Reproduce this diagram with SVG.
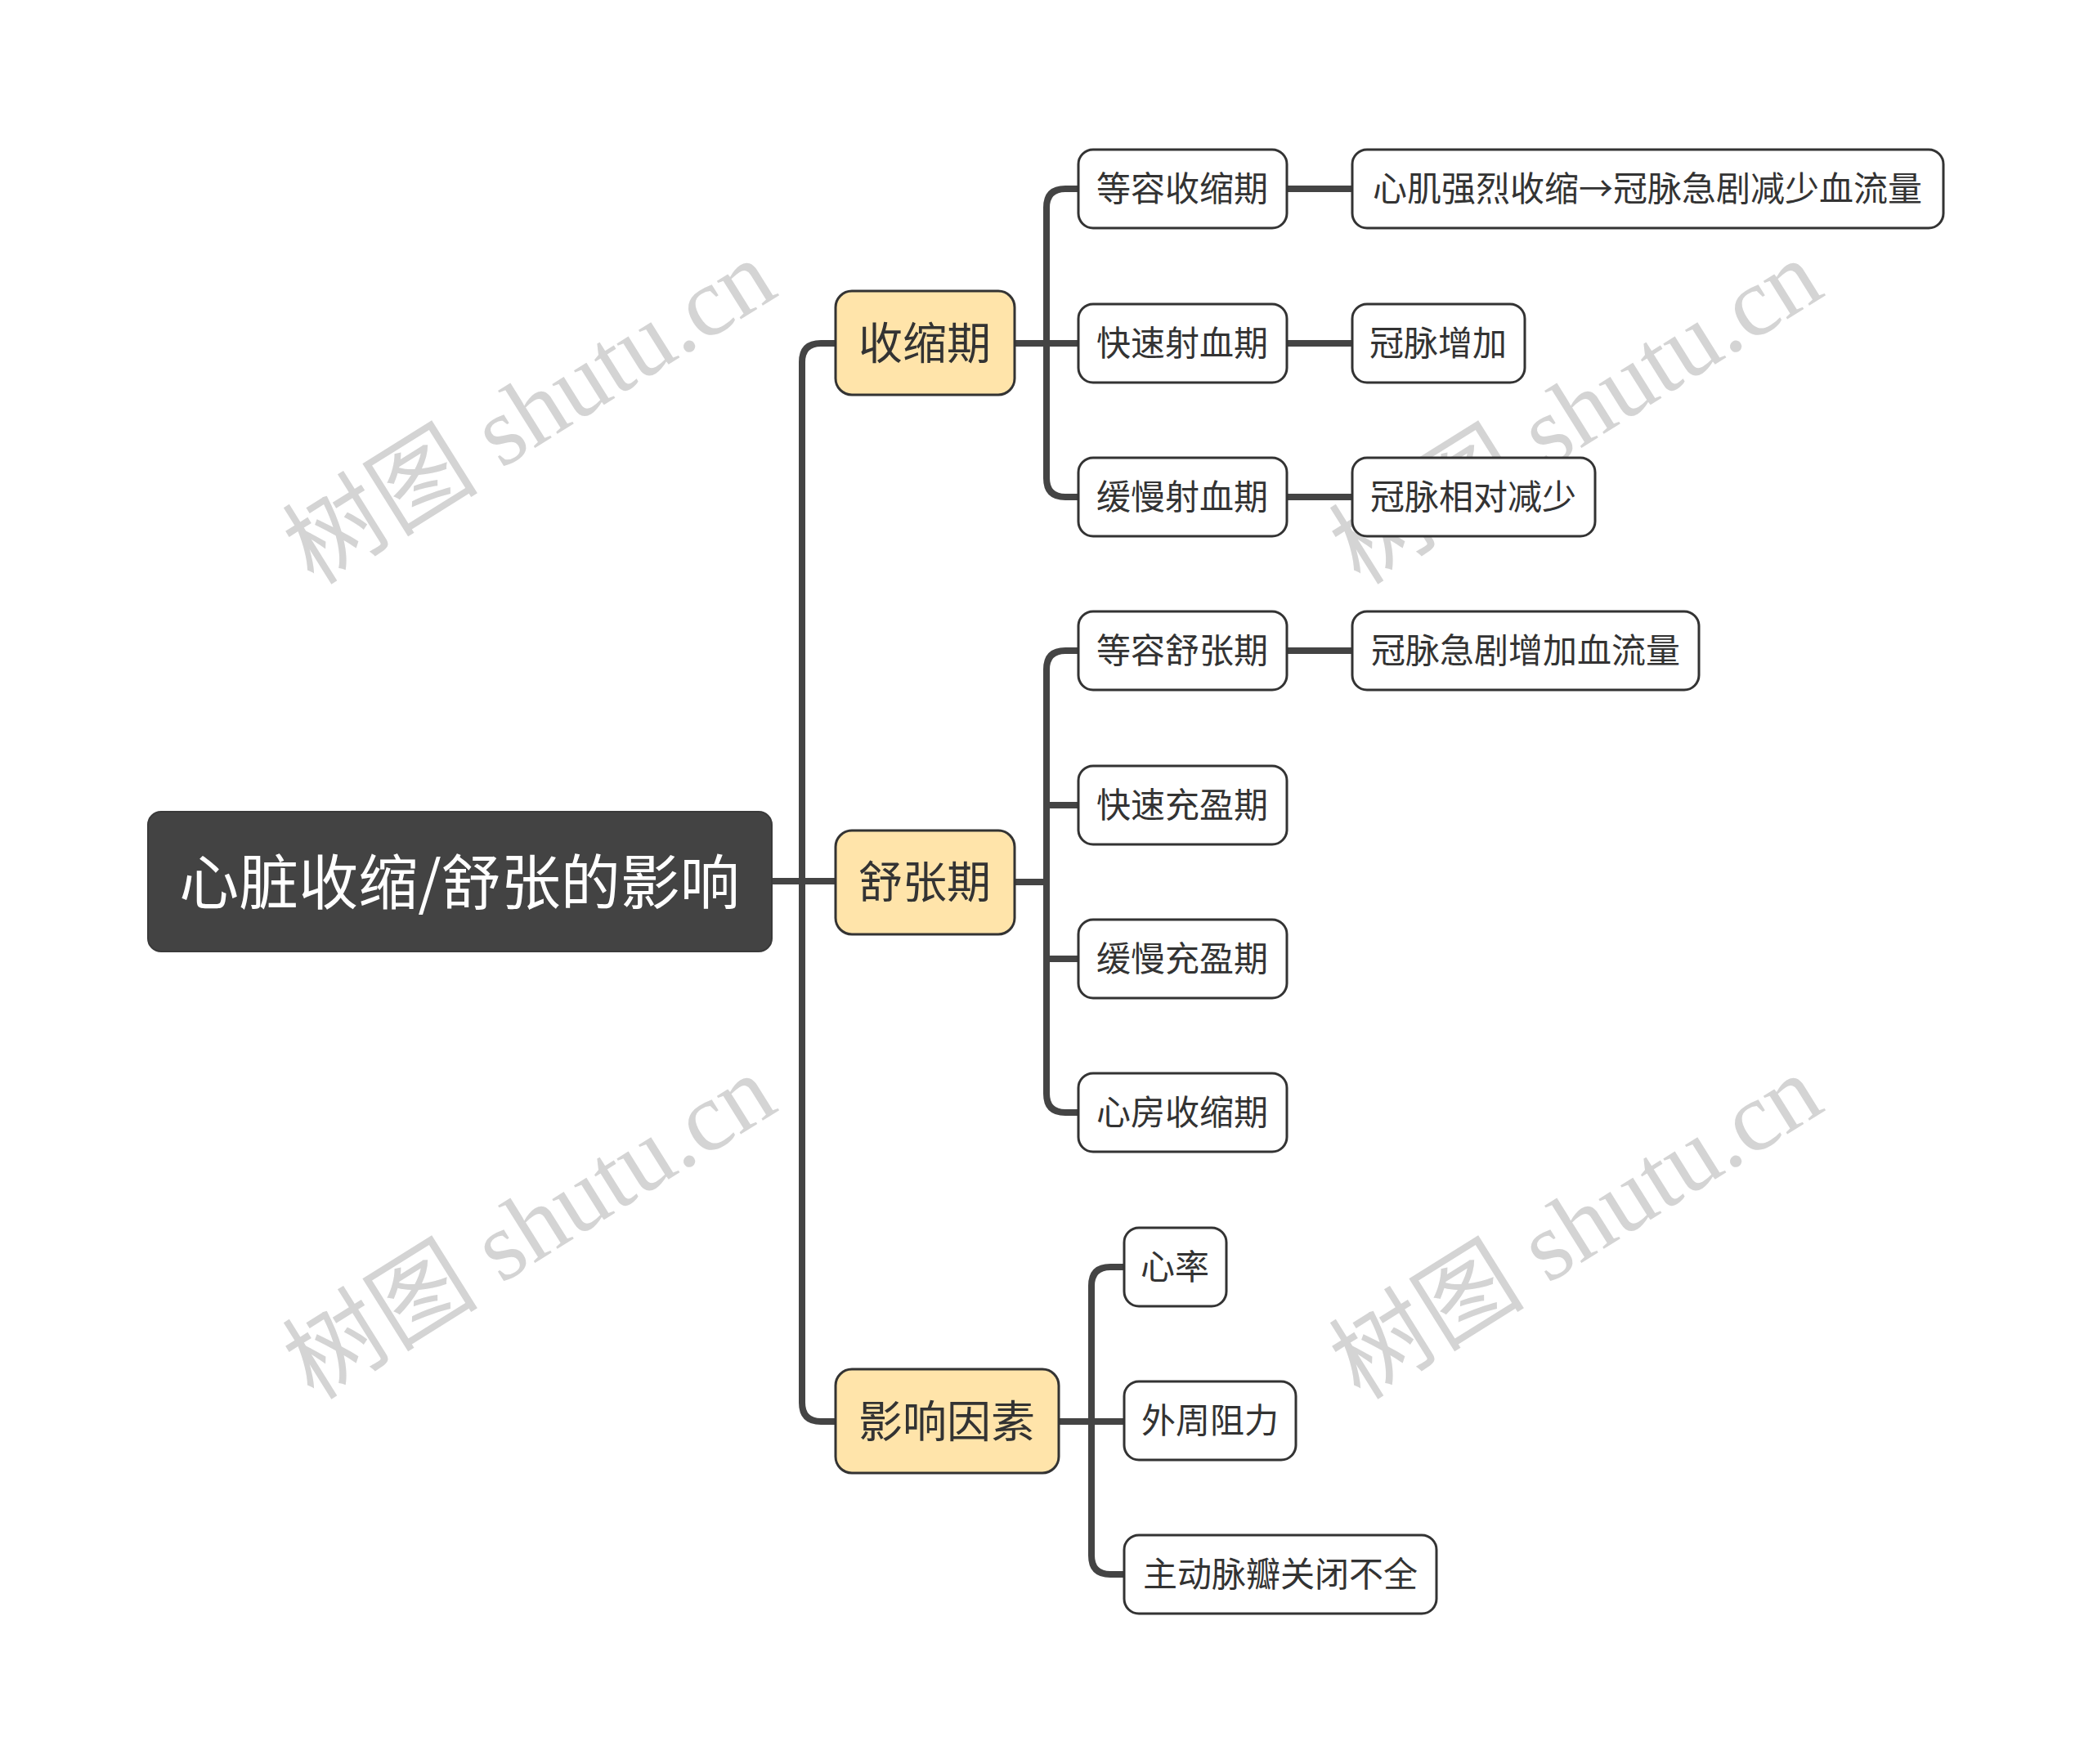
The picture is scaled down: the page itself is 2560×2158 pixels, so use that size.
<svg xmlns="http://www.w3.org/2000/svg" width="2560" height="2158" viewBox="0 0 2560 2158">
<style>
.wm{font-family:"Liberation Serif","Noto Sans CJK SC",serif;font-size:120px;fill:#d4d4d4;text-anchor:middle}
.conn{fill:none;stroke:#444;stroke-width:8;stroke-linecap:butt}
.root rect{fill:#434343;stroke:#3a3a3a;stroke-width:2}
.root text{fill:#fff;font-size:73px}
.l1 rect{fill:#ffe4aa;stroke:#333;stroke-width:3}
.l1 text{fill:#333;font-size:54px}
.l2 rect{fill:#fff;stroke:#333;stroke-width:3}
.l2 text{fill:#333;font-size:42px}
.root text,.l1 text,.l2 text{font-family:"Noto Sans CJK SC","Noto Sans",sans-serif;text-anchor:middle;dominant-baseline:central;transform:translateY(-4px)}
</style>
<rect width="2560" height="2158" fill="#fff"/>
<g id="watermarks">
<g transform="translate(647,503) rotate(-32)"><text class="wm" x="0" y="42">树图 shutu.cn</text></g>
<g transform="translate(1927,503) rotate(-32)"><text class="wm" x="0" y="42">树图 shutu.cn</text></g>
<g transform="translate(647,1500) rotate(-32)"><text class="wm" x="0" y="42">树图 shutu.cn</text></g>
<g transform="translate(1927,1500) rotate(-32)"><text class="wm" x="0" y="42">树图 shutu.cn</text></g>
</g>
<g id="connectors">
<path class="conn" d="M944,1078 L1022,1078"/>
<path class="conn" d="M981,1078 L981,443 Q981,420 1004,420 L1022,420"/>
<path class="conn" d="M981,1078 L981,1716 Q981,1739 1004,1739 L1022,1739"/>
<path class="conn" d="M1241,420 L1319,420"/>
<path class="conn" d="M1280,420 L1280,254 Q1280,231 1303,231 L1319,231"/>
<path class="conn" d="M1280,420 L1280,585 Q1280,608 1303,608 L1319,608"/>
<path class="conn" d="M1241,1079 L1280,1079"/>
<path class="conn" d="M1280,1079 L1280,819 Q1280,796 1303,796 L1319,796"/>
<path class="conn" d="M1280,1079 L1280,1338 Q1280,1361 1303,1361 L1319,1361"/>
<path class="conn" d="M1280,985 L1319,985"/>
<path class="conn" d="M1280,1173 L1319,1173"/>
<path class="conn" d="M1295,1739 L1375,1739"/>
<path class="conn" d="M1335,1739 L1335,1573 Q1335,1550 1358,1550 L1375,1550"/>
<path class="conn" d="M1335,1739 L1335,1903 Q1335,1926 1358,1926 L1375,1926"/>
<path class="conn" d="M1574,231 L1654,231"/>
<path class="conn" d="M1574,420 L1654,420"/>
<path class="conn" d="M1574,608 L1654,608"/>
<path class="conn" d="M1574,796 L1654,796"/>
</g>
<g id="root" class="root"><rect x="181" y="993" width="763" height="171" rx="16"/><text x="562" y="1078">心脏收缩/舒张的影响</text></g>
<g id="n-shousuoqi" class="l1"><rect x="1022" y="356" width="219" height="127" rx="20"/><text x="1131" y="420">收缩期</text></g>
<g id="n-shuzhangqi" class="l1"><rect x="1022" y="1016" width="219" height="127" rx="20"/><text x="1131" y="1079">舒张期</text></g>
<g id="n-yingxiang" class="l1"><rect x="1022" y="1675" width="273" height="127" rx="20"/><text x="1158" y="1739">影响因素</text></g>
<g id="n-a1" class="l2"><rect x="1319" y="183" width="255" height="96" rx="18"/><text x="1446" y="231">等容收缩期</text></g>
<g id="n-a2" class="l2"><rect x="1319" y="372" width="255" height="96" rx="18"/><text x="1446" y="420">快速射血期</text></g>
<g id="n-a3" class="l2"><rect x="1319" y="560" width="255" height="96" rx="18"/><text x="1446" y="608">缓慢射血期</text></g>
<g id="n-b1" class="l2"><rect x="1319" y="748" width="255" height="96" rx="18"/><text x="1446" y="796">等容舒张期</text></g>
<g id="n-b2" class="l2"><rect x="1319" y="937" width="255" height="96" rx="18"/><text x="1446" y="985">快速充盈期</text></g>
<g id="n-b3" class="l2"><rect x="1319" y="1125" width="255" height="96" rx="18"/><text x="1446" y="1173">缓慢充盈期</text></g>
<g id="n-b4" class="l2"><rect x="1319" y="1313" width="255" height="96" rx="18"/><text x="1446" y="1361">心房收缩期</text></g>
<g id="n-c1" class="l2"><rect x="1375" y="1502" width="125" height="96" rx="18"/><text x="1437" y="1550">心率</text></g>
<g id="n-c2" class="l2"><rect x="1375" y="1690" width="210" height="96" rx="18"/><text x="1480" y="1738">外周阻力</text></g>
<g id="n-c3" class="l2"><rect x="1375" y="1878" width="382" height="96" rx="18"/><text x="1566" y="1926">主动脉瓣关闭不全</text></g>
<g id="n-a1x" class="l2"><rect x="1654" y="183" width="723" height="96" rx="18"/><text x="2015" y="231">心肌强烈收缩→冠脉急剧减少血流量</text></g>
<g id="n-a2x" class="l2"><rect x="1654" y="372" width="211" height="96" rx="18"/><text x="1759" y="420">冠脉增加</text></g>
<g id="n-a3x" class="l2"><rect x="1654" y="560" width="297" height="96" rx="18"/><text x="1802" y="608">冠脉相对减少</text></g>
<g id="n-b1x" class="l2"><rect x="1654" y="748" width="424" height="96" rx="18"/><text x="1866" y="796">冠脉急剧增加血流量</text></g>
</svg>
